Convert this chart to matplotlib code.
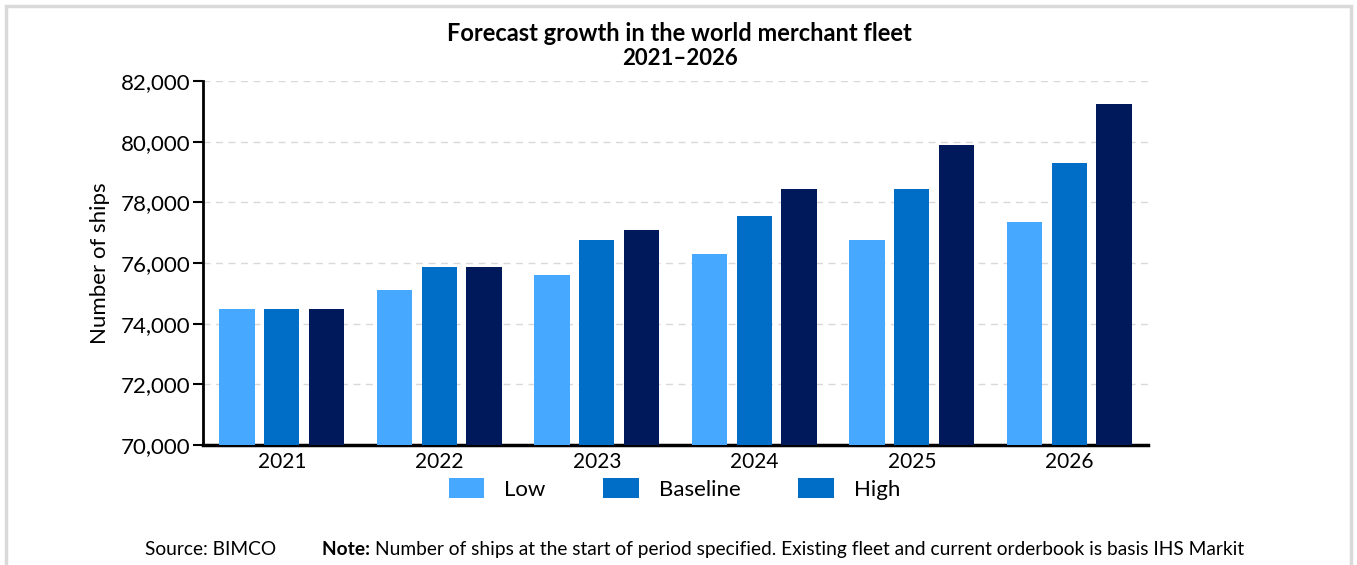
import matplotlib as mpl
import matplotlib.pyplot as plt
import numpy as np
from matplotlib.patches import Patch, Rectangle

mpl.rcParams["font.family"] = ["Lato", "DejaVu Sans"]

# Data
years = ["2021", "2022", "2023", "2024", "2025", "2026"]
low = [74500, 75100, 75600, 76300, 76750, 77350]
baseline = [74500, 75870, 76750, 77550, 78450, 79300]
high = [74500, 75870, 77100, 78450, 79900, 81250]
series_names = ["Low", "Baseline", "High"]
colors = ["#46A9FF", "#006DC6", "#00195A"]
# the original legend shows the High swatch in the baseline colour
legend_colors = ["#46A9FF", "#006DC6", "#006DC6"]

fig = plt.figure(figsize=(13.57, 5.65), dpi=100)
ax = fig.add_axes([0.1496, 0.2124, 0.6964, 0.6442])

# light frame round the whole picture
fig.patches.append(
    Rectangle((6 / 1357, -0.05), 1345 / 1357, 1.05 - 6 / 565, transform=fig.transFigure,
              fill=False, edgecolor="#d9d9d9", linewidth=2.5, zorder=0)
)

x = np.arange(len(years))
width = 0.225
pitch = 0.283
for i, (vals, c) in enumerate(zip([low, baseline, high], colors)):
    ax.bar(x + (i - 1) * pitch, vals, width=width, color=c, zorder=3)

ax.set_xlim(-0.5, len(years) - 0.5)
ax.set_ylim(70000, 82000)
ax.set_yticks(np.arange(70000, 82001, 2000))
ax.yaxis.set_major_formatter(mpl.ticker.FuncFormatter(lambda v, p: f"{int(v):,}"))
ax.set_xticks(x)
ax.set_xticklabels(years)
ax.tick_params(axis="y", labelsize=16, length=7, width=1.5, pad=2)
ax.tick_params(axis="x", labelsize=15, length=0, pad=5)

ax.grid(axis="y", color="#d9d9d9", linestyle=(0, (5, 4)), linewidth=1, zorder=0)
for s in ["top", "right"]:
    ax.spines[s].set_visible(False)
ax.spines["left"].set_linewidth(2)
ax.spines["bottom"].set_linewidth(2.5)

ax.set_ylabel("Number of ships", fontsize=16, labelpad=8)

fig.text(0.501, 0.94, "Forecast growth in the world merchant fleet", ha="center", va="center",
         fontsize=17, fontweight="bold")
fig.text(0.501, 0.897, "2021\u20132026", ha="center", va="center", fontsize=16, fontweight="bold")

handles = [Patch(facecolor=c) for c in legend_colors]
fig.legend(handles, series_names, loc="center", bbox_to_anchor=(0.497, 0.135), ncol=3,
           frameon=False, fontsize=16, handlelength=1.6, handleheight=1.0,
           columnspacing=2.6, handletextpad=0.9)

fy = 0.028
fig.text(145 / 1357, fy, "Source: BIMCO", ha="left", va="center", fontsize=13.8)
note = fig.text(322 / 1357, fy, "Note: ", ha="left", va="center", fontsize=13.8, fontweight="bold")
fig.canvas.draw()
bb = note.get_window_extent().transformed(fig.transFigure.inverted())
fig.text(bb.x1, fy,
         "Number of ships at the start of period specified. Existing fleet and current orderbook is basis IHS Markit",
         ha="left", va="center", fontsize=13.8)

fig.savefig("out.png", dpi=100)
